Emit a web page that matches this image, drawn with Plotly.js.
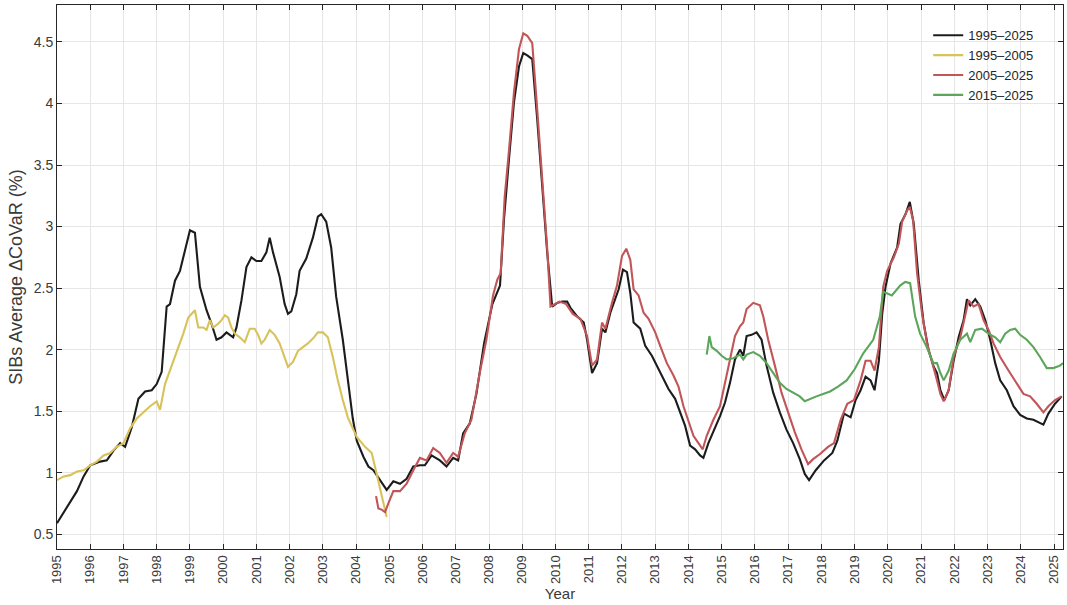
<!DOCTYPE html>
<html>
<head>
<meta charset="utf-8">
<script src="https://cdn.plot.ly/plotly-3.0.1.min.js"></script>
<style>
  html, body { margin: 0; padding: 0; background: #ffffff; }
  #chart { width: 1067px; height: 605px; }
</style>
</head>
<body>
<div id="chart"></div>
<script>
// SIBs average ΔCoVaR (%), estimated over four sample windows (decimal years)
const yearsFull = [1995.0,1995.2,1995.4,1995.6,1995.8,1996.0,1996.3,1996.5,1996.7,1996.9,1997.05,1997.25,1997.45,1997.65,1997.85,1998.0,1998.15,1998.3,1998.4,1998.55,1998.7,1998.85,1999.0,1999.15,1999.3,1999.5,1999.65,1999.8,1999.95,2000.1,2000.3,2000.4,2000.55,2000.7,2000.85,2001.0,2001.15,2001.3,2001.4,2001.5,2001.7,2001.85,2001.95,2002.05,2002.2,2002.3,2002.5,2002.7,2002.85,2002.95,2003.1,2003.25,2003.4,2003.6,2003.75,2003.9,2004.02,2004.22,2004.37,2004.52,2004.72,2004.92,2005.12,2005.32,2005.52,2005.72,2005.92,2006.07,2006.27,2006.52,2006.72,2006.92,2007.07,2007.22,2007.42,2007.62,2007.85,2008.1,2008.33,2008.45,2008.6,2008.75,2008.9,2009.03,2009.15,2009.3,2009.45,2009.6,2009.75,2009.9,2010.05,2010.2,2010.35,2010.45,2010.65,2010.85,2010.95,2011.1,2011.25,2011.4,2011.5,2011.65,2011.8,2011.9,2012.03,2012.15,2012.25,2012.35,2012.55,2012.7,2012.9,2013.05,2013.2,2013.4,2013.6,2013.75,2013.9,2014.05,2014.2,2014.35,2014.45,2014.6,2014.75,2014.95,2015.1,2015.25,2015.4,2015.55,2015.65,2015.75,2015.9,2016.05,2016.2,2016.35,2016.55,2016.75,2016.95,2017.15,2017.35,2017.5,2017.63,2017.83,2018.08,2018.33,2018.48,2018.68,2018.88,2019.03,2019.18,2019.33,2019.48,2019.6,2019.73,2019.83,2019.93,2020.08,2020.28,2020.38,2020.53,2020.66,2020.78,2020.93,2021.08,2021.23,2021.38,2021.48,2021.58,2021.7,2021.83,2021.98,2022.13,2022.28,2022.38,2022.48,2022.63,2022.78,2022.93,2023.08,2023.23,2023.38,2023.58,2023.78,2023.98,2024.18,2024.38,2024.53,2024.68,2024.83,2025.03,2025.23];
const covarFull = [0.59,0.68,0.76,0.85,0.97,1.06,1.09,1.10,1.18,1.24,1.21,1.37,1.60,1.66,1.67,1.72,1.82,2.35,2.37,2.56,2.64,2.81,2.97,2.95,2.51,2.32,2.21,2.08,2.10,2.14,2.10,2.18,2.40,2.67,2.75,2.72,2.72,2.79,2.91,2.79,2.59,2.37,2.29,2.31,2.45,2.64,2.74,2.91,3.08,3.10,3.04,2.83,2.43,2.08,1.75,1.44,1.26,1.13,1.05,1.02,0.94,0.86,0.93,0.91,0.95,1.05,1.06,1.06,1.14,1.10,1.05,1.12,1.10,1.32,1.40,1.64,2.05,2.37,2.52,3.06,3.55,4.01,4.30,4.41,4.39,4.36,3.87,3.33,2.79,2.35,2.38,2.39,2.39,2.34,2.27,2.22,2.08,1.81,1.89,2.17,2.14,2.30,2.41,2.49,2.65,2.63,2.46,2.22,2.17,2.03,1.95,1.87,1.79,1.68,1.60,1.49,1.38,1.22,1.19,1.14,1.12,1.24,1.33,1.46,1.57,1.73,1.92,2.00,1.95,2.11,2.12,2.14,2.08,1.87,1.65,1.49,1.35,1.24,1.11,0.99,0.94,1.02,1.10,1.16,1.26,1.48,1.45,1.59,1.67,1.78,1.75,1.67,1.91,2.29,2.51,2.70,2.83,3.02,3.10,3.20,3.02,2.56,2.21,1.99,1.86,1.81,1.67,1.59,1.67,1.91,2.10,2.24,2.41,2.36,2.41,2.35,2.24,2.08,1.89,1.75,1.67,1.54,1.47,1.44,1.43,1.41,1.39,1.48,1.56,1.62];

const yearsEarly = [1995.0,1995.2,1995.4,1995.6,1995.8,1996.0,1996.2,1996.4,1996.6,1996.8,1997.0,1997.2,1997.4,1997.6,1997.8,1998.0,1998.1,1998.25,1998.4,1998.6,1998.8,1998.95,1999.05,1999.15,1999.25,1999.4,1999.5,1999.6,1999.7,1999.85,1999.95,2000.05,2000.15,2000.25,2000.35,2000.5,2000.65,2000.8,2000.95,2001.05,2001.15,2001.25,2001.4,2001.55,2001.7,2001.85,2001.95,2002.1,2002.25,2002.4,2002.55,2002.7,2002.85,2003.0,2003.15,2003.3,2003.45,2003.6,2003.75,2003.9,2004.02,2004.27,2004.47,2004.62,2004.77,2004.92];
const covarEarly = [0.94,0.97,0.98,1.01,1.02,1.06,1.09,1.14,1.16,1.21,1.24,1.36,1.44,1.49,1.54,1.58,1.51,1.72,1.83,1.97,2.13,2.26,2.29,2.32,2.18,2.18,2.16,2.24,2.18,2.21,2.24,2.28,2.26,2.18,2.13,2.10,2.06,2.17,2.17,2.12,2.05,2.08,2.16,2.12,2.05,1.94,1.86,1.90,1.99,2.02,2.05,2.09,2.14,2.14,2.10,1.94,1.75,1.59,1.45,1.36,1.29,1.21,1.16,0.99,0.81,0.64];

const yearsLate = [2004.6,2004.67,2004.77,2004.87,2004.97,2005.12,2005.32,2005.52,2005.72,2005.92,2006.12,2006.32,2006.52,2006.72,2006.92,2007.07,2007.27,2007.47,2007.72,2007.92,2008.12,2008.25,2008.35,2008.47,2008.6,2008.75,2008.9,2009.03,2009.15,2009.3,2009.45,2009.6,2009.75,2009.85,2010.12,2010.32,2010.52,2010.75,2010.95,2011.1,2011.25,2011.4,2011.5,2011.7,2011.85,2012.0,2012.13,2012.25,2012.35,2012.5,2012.65,2012.8,2013.0,2013.15,2013.35,2013.55,2013.7,2013.85,2014.0,2014.15,2014.3,2014.43,2014.55,2014.75,2014.95,2015.1,2015.25,2015.4,2015.55,2015.65,2015.75,2015.95,2016.15,2016.25,2016.4,2016.6,2016.8,2017.0,2017.2,2017.4,2017.6,2017.75,2017.95,2018.2,2018.38,2018.58,2018.78,2018.98,2019.18,2019.33,2019.48,2019.6,2019.73,2019.86,2019.98,2020.18,2020.33,2020.43,2020.58,2020.66,2020.76,2020.88,2021.03,2021.18,2021.33,2021.48,2021.58,2021.68,2021.83,2021.98,2022.18,2022.33,2022.43,2022.58,2022.73,2022.88,2023.03,2023.18,2023.38,2023.63,2023.88,2024.08,2024.28,2024.48,2024.68,2024.83,2025.03,2025.23];
const covarLate = [0.81,0.71,0.70,0.68,0.75,0.85,0.85,0.91,1.02,1.12,1.10,1.20,1.16,1.08,1.16,1.13,1.32,1.43,1.81,2.08,2.44,2.57,2.62,3.24,3.62,4.09,4.44,4.57,4.55,4.49,3.95,3.38,2.82,2.35,2.39,2.37,2.29,2.25,2.11,1.87,1.92,2.22,2.17,2.38,2.52,2.76,2.82,2.73,2.49,2.44,2.30,2.25,2.14,2.03,1.89,1.79,1.70,1.54,1.41,1.30,1.24,1.19,1.30,1.43,1.54,1.72,1.92,2.11,2.19,2.22,2.33,2.38,2.36,2.27,2.08,1.87,1.65,1.49,1.33,1.19,1.07,1.11,1.15,1.21,1.24,1.43,1.56,1.59,1.75,1.91,1.91,1.83,2.02,2.51,2.64,2.75,2.86,3.04,3.13,3.16,3.05,2.62,2.29,2.05,1.91,1.75,1.64,1.58,1.67,1.94,2.10,2.29,2.40,2.35,2.37,2.24,2.16,2.05,1.94,1.83,1.72,1.64,1.62,1.56,1.49,1.54,1.59,1.62];

const yearsRecent = [2014.55,2014.63,2014.7,2014.85,2015.0,2015.15,2015.35,2015.55,2015.65,2015.75,2015.95,2016.15,2016.35,2016.55,2016.75,2016.95,2017.15,2017.35,2017.5,2017.65,2017.85,2018.05,2018.26,2018.5,2018.76,2019.0,2019.26,2019.56,2019.76,2019.86,2020.12,2020.37,2020.52,2020.67,2020.82,2020.97,2021.17,2021.37,2021.48,2021.58,2021.68,2021.83,2021.98,2022.18,2022.38,2022.48,2022.63,2022.83,2023.03,2023.23,2023.38,2023.53,2023.68,2023.83,2023.98,2024.18,2024.38,2024.58,2024.78,2024.98,2025.18,2025.27];
const covarRecent = [1.96,2.11,2.02,1.99,1.95,1.92,1.93,1.96,1.92,1.96,1.98,1.95,1.89,1.81,1.73,1.68,1.65,1.62,1.58,1.60,1.62,1.64,1.66,1.70,1.75,1.84,1.97,2.08,2.27,2.47,2.44,2.52,2.55,2.54,2.27,2.13,2.02,1.89,1.89,1.81,1.75,1.83,1.97,2.08,2.13,2.06,2.16,2.17,2.13,2.10,2.06,2.13,2.16,2.17,2.12,2.08,2.02,1.94,1.85,1.85,1.87,1.89];

const seriesNames = ['1995\u20132025', '1995\u20132005', '2005\u20132025', '2015\u20132025'];
const yearTicks = [];
for (let y = 1995; y <= 2025; y++) yearTicks.push(y);
const valueTicks = [0.5, 1, 1.5, 2, 2.5, 3, 3.5, 4, 4.5];
const valueTickText = ['0.5', '1', '1.5', '2', '2.5', '3', '3.5', '4', '4.5'];

const font = 'Liberation Sans, Arial, Helvetica, sans-serif';
const textGrey = '#3a3a3a';
const lineW = 2.1;

const traces = [
  { x: yearsFull,   y: covarFull,   name: seriesNames[0], line: { color: '#1c1c1c', width: lineW } },
  { x: yearsEarly,  y: covarEarly,  name: seriesNames[1], line: { color: '#d8c25a', width: lineW } },
  { x: yearsLate,   y: covarLate,   name: seriesNames[2], line: { color: '#c25558', width: lineW } },
  { x: yearsRecent, y: covarRecent, name: seriesNames[3], line: { color: '#5ba65b', width: lineW } }
].map(t => Object.assign({ type: 'scatter', mode: 'lines', hoverinfo: 'skip' }, t));

const axisCommon = {
  showline: true, linecolor: '#262626', linewidth: 1, mirror: 'allticks',
  ticks: 'inside', ticklen: 5, tickwidth: 1, tickcolor: '#262626',
  showgrid: true, gridcolor: '#e6e6e6', gridwidth: 1, zeroline: false,
  automargin: false
};

const layout = {
  width: 1067, height: 605,
  margin: { l: 57, r: 4, t: 5, b: 56 },
  paper_bgcolor: '#ffffff', plot_bgcolor: '#ffffff',
  showlegend: true,
  legend: {
    x: 0.866, y: 0.972, xanchor: 'left', yanchor: 'top',
    bgcolor: 'rgba(0,0,0,0)', borderwidth: 0, tracegroupgap: 0,
    font: { family: font, size: 13, color: '#262626' }
  },
  xaxis: Object.assign({}, axisCommon, {
    range: [1995, 2025.27], tickmode: 'array', tickvals: yearTicks,
    ticktext: yearTicks.map(String), tickangle: -90,
    tickfont: { family: font, size: 13, color: textGrey },
    title: { text: 'Year', font: { family: font, size: 15, color: textGrey }, standoff: 5 }
  }),
  yaxis: Object.assign({}, axisCommon, {
    range: [0.38, 4.8], tickmode: 'array', tickvals: valueTicks, ticktext: valueTickText,
    tickfont: { family: font, size: 14, color: textGrey },
    title: { text: 'SIBs Average \u0394CoVaR (%)', font: { family: font, size: 18, color: textGrey }, standoff: 6 }
  })
};

Plotly.newPlot('chart', traces, layout, { staticPlot: true, displayModeBar: false });
</script>
</body>
</html>
